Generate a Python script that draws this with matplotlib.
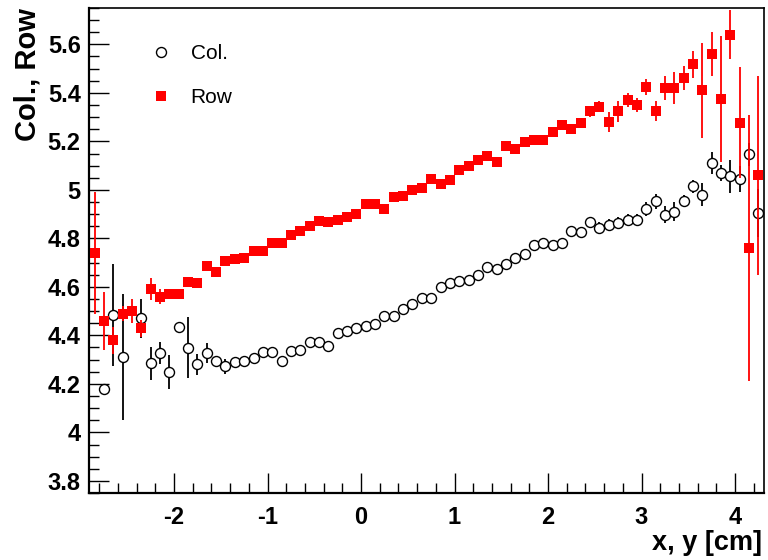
import numpy as np
import matplotlib
matplotlib.use("Agg")
import matplotlib.pyplot as plt
from matplotlib.lines import Line2D
from matplotlib.ticker import MultipleLocator, FuncFormatter

plt.rcParams['font.family'] = ['Liberation Sans', 'DejaVu Sans']
plt.rcParams['axes.unicode_minus'] = False

# bin centres [cm]
positions = [
    -2.85, -2.75, -2.65, -2.55, -2.45, -2.35, -2.25, -2.15, -2.05, -1.95,
    -1.85, -1.75, -1.65, -1.55, -1.45, -1.35, -1.25, -1.15, -1.05, -0.95,
    -0.85, -0.75, -0.65, -0.55, -0.45, -0.35, -0.25, -0.15, -0.05,
    0.05, 0.15, 0.25, 0.35, 0.45, 0.55, 0.65, 0.75, 0.85, 0.95,
    1.05, 1.15, 1.25, 1.35, 1.45, 1.55, 1.65, 1.75, 1.85, 1.95,
    2.05, 2.15, 2.25, 2.35, 2.45, 2.55, 2.65, 2.75, 2.85, 2.95,
    3.05, 3.15, 3.25, 3.35, 3.45, 3.55, 3.65, 3.75, 3.85, 3.95,
    4.05, 4.15, 4.25,
]

col_mean = [
    np.nan, 4.18, 4.485, 4.31, np.nan, 4.47, 4.285, 4.326, 4.25, 4.434,
    4.35, 4.28, 4.327, 4.294, 4.272, 4.29, 4.296, 4.306, 4.33, 4.33,
    4.296, 4.335, 4.34, 4.374, 4.371, 4.357, 4.41, 4.42, 4.43,
    4.44, 4.445, 4.478, 4.48, 4.51, 4.53, 4.554, 4.555, 4.60, 4.614,
    4.625, 4.63, 4.65, 4.68, 4.675, 4.693, 4.72, 4.734, 4.772, 4.78,
    4.774, 4.78, 4.83, 4.825, 4.867, 4.844, 4.854, 4.863, 4.877, 4.874,
    4.92, 4.953, 4.897, 4.91, 4.955, 5.014, 4.98, 5.11, 5.07, 5.056,
    5.046, 5.146, 4.904,
]
col_err = [
    0.0, 0.02, 0.21, 0.26, 0.0, 0.08, 0.067, 0.045, 0.07, 0.02,
    0.125, 0.045, 0.04, 0.02, 0.03, 0.02, 0.015, 0.015, 0.015, 0.015,
    0.02, 0.015, 0.015, 0.015, 0.012, 0.012, 0.012, 0.012, 0.012,
    0.012, 0.012, 0.012, 0.012, 0.012, 0.012, 0.012, 0.012, 0.012, 0.012,
    0.012, 0.012, 0.012, 0.012, 0.012, 0.015, 0.015, 0.015, 0.015, 0.015,
    0.018, 0.018, 0.02, 0.02, 0.022, 0.022, 0.025, 0.025, 0.025, 0.025,
    0.028, 0.03, 0.035, 0.04, 0.025, 0.027, 0.048, 0.046, 0.034, 0.069,
    0.053, 0.048, 0.10,
]

row_mean = [
    4.74, 4.46, 4.38, 4.49, 4.50, 4.43, 4.59, 4.56, 4.57, 4.57,
    4.62, 4.615, 4.685, 4.66, 4.705, 4.715, 4.72, 4.75, 4.75, 4.78,
    4.78, 4.815, 4.83, 4.85, 4.87, 4.866, 4.875, 4.89, 4.90,
    4.94, 4.94, 4.92, 4.97, 4.975, 5.00, 5.006, 5.045, 5.025, 5.04,
    5.08, 5.10, 5.125, 5.14, 5.115, 5.18, 5.167, 5.197, 5.204, 5.204,
    5.24, 5.267, 5.25, 5.274, 5.324, 5.343, 5.28, 5.324, 5.37, 5.35,
    5.424, 5.325, 5.42, 5.42, 5.46, 5.518, 5.41, 5.56, 5.376, 5.64,
    5.277, 4.76, 5.06,
]
row_err = [
    0.25, 0.12, 0.055, 0.03, 0.05, 0.035, 0.045, 0.03, 0.015, 0.015,
    0.015, 0.015, 0.015, 0.015, 0.012, 0.012, 0.012, 0.012, 0.012, 0.012,
    0.012, 0.012, 0.012, 0.012, 0.012, 0.012, 0.012, 0.012, 0.012,
    0.012, 0.012, 0.012, 0.012, 0.012, 0.012, 0.012, 0.012, 0.012, 0.012,
    0.012, 0.012, 0.012, 0.012, 0.012, 0.015, 0.015, 0.015, 0.015, 0.015,
    0.018, 0.018, 0.02, 0.02, 0.022, 0.022, 0.04, 0.043, 0.03, 0.03,
    0.033, 0.04, 0.05, 0.065, 0.05, 0.055, 0.195, 0.09, 0.26, 0.10,
    0.23, 0.55, 0.41,
]

legend_labels = ["Col.", "Row"]

fig = plt.figure(figsize=(7.68, 5.6), dpi=100)
ax = fig.add_axes([89 / 768, 1 - 493 / 560, (764 - 89) / 768, (493 - 8) / 560])

col_style = dict(marker='o', ms=7.2, mfc='white', mec='black', mew=1.0)
row_style = dict(marker='s', ms=6.8, mfc='#ff0000', mec='#ff0000', mew=0)

ax.errorbar(positions, col_mean, yerr=col_err, ls='none', ecolor='black',
            elinewidth=1.3, capsize=0, zorder=3, **col_style)
ax.errorbar(positions, row_mean, yerr=row_err, ls='none', ecolor='#ff0000',
            elinewidth=1.3, capsize=0, zorder=4, **row_style)

ax.set_xlim(-2.91, 4.31)
ax.set_ylim(3.75, 5.75)

ax.xaxis.set_major_locator(MultipleLocator(1))
ax.xaxis.set_minor_locator(MultipleLocator(0.2))
ax.yaxis.set_major_locator(MultipleLocator(0.2))
ax.yaxis.set_minor_locator(MultipleLocator(0.05))
fmt = FuncFormatter(lambda v, p: f"{v:g}")
ax.xaxis.set_major_formatter(fmt)
ax.yaxis.set_major_formatter(fmt)

ax.tick_params(which='both', direction='in', top=False, right=False, width=1.0)
ax.tick_params(which='major', length=14.4)
ax.tick_params(which='minor', length=7.2)
ax.tick_params(axis='x', which='major', pad=9.5)
ax.tick_params(axis='y', which='major', pad=6)
for lab in ax.get_xticklabels() + ax.get_yticklabels():
    lab.set_fontsize(17)
    lab.set_fontweight('bold')

for side in ('left', 'bottom'):
    ax.spines[side].set_linewidth(1.6)
for side in ('top', 'right'):
    ax.spines[side].set_linewidth(1.2)

fig.text(762 / 768, 1 - 550 / 560, "x, y [cm]", ha='right', va='baseline',
         fontsize=19.5, fontweight='bold')
fig.text(28 / 768, 1 - 8 / 560, "Col., Row", ha='center', va='top',
         rotation=90, fontsize=21, fontweight='bold')

handles = [Line2D([], [], ls='none', **col_style),
           Line2D([], [], ls='none', **row_style)]
ax.legend(handles, legend_labels, loc='upper left',
          bbox_to_anchor=(148 / 768, 1 - 44 / 560),
          bbox_transform=fig.transFigure, frameon=False, fontsize=15,
          handlelength=1.2, handletextpad=0.85, labelspacing=1.2,
          borderpad=0, borderaxespad=0)

fig.savefig("out.png", dpi=100)
